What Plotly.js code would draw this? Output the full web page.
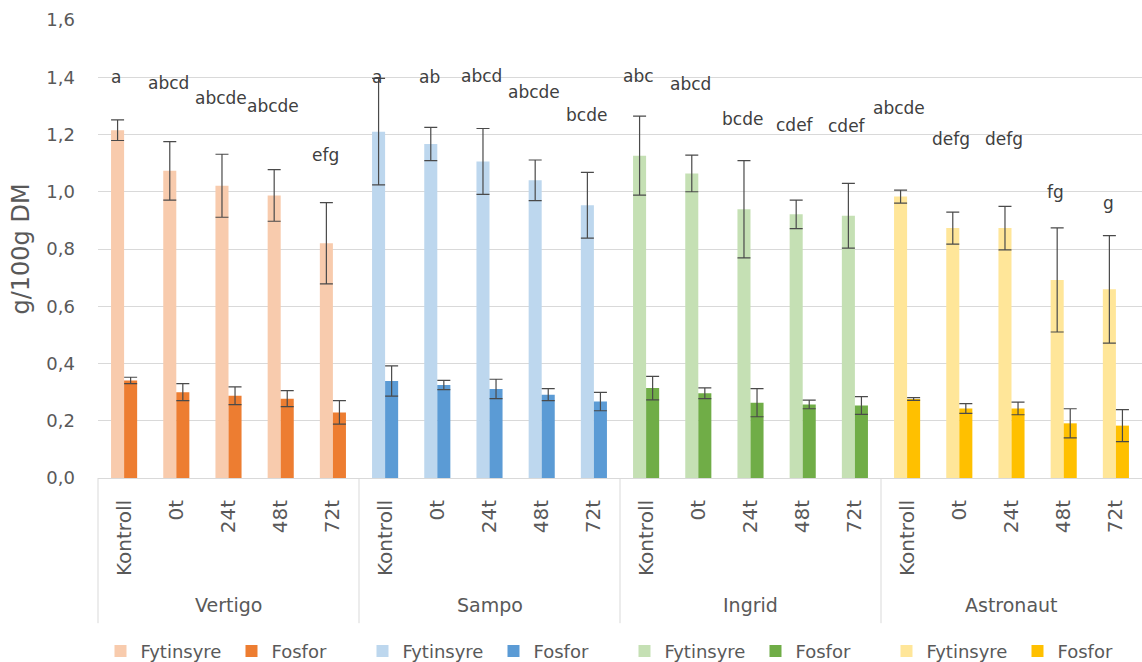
<!DOCTYPE html>
<html>
<head>
<meta charset="utf-8">
<script src="https://cdn.plot.ly/plotly-3.0.1.min.js"></script>
<style>
html,body{margin:0;padding:0;background:#fff;}
#chart{width:1142px;height:662px;}
</style>
</head>
<body>
<div id="chart"></div>
<script>
// ---- data ----
const groups = ['Vertigo', 'Sampo', 'Ingrid', 'Astronaut'];
const categories = ['Kontroll', '0t', '24t', '48t', '72t'];

const fytVertigo   = [1.215, 1.073, 1.021, 0.987, 0.820];
const fytSampo     = [1.210, 1.167, 1.106, 1.040, 0.953];
const fytIngrid    = [1.126, 1.064, 0.939, 0.921, 0.916];
const fytAstronaut = [0.983, 0.873, 0.873, 0.692, 0.659];

const fytErrVertigo   = [0.036, 0.102, 0.110, 0.090, 0.142];
const fytErrSampo     = [0.186, 0.058, 0.115, 0.071, 0.115];
const fytErrIngrid    = [0.138, 0.064, 0.170, 0.050, 0.113];
const fytErrAstronaut = [0.023, 0.056, 0.076, 0.182, 0.188];

const fosVertigo   = [0.341, 0.300, 0.287, 0.277, 0.229];
const fosSampo     = [0.339, 0.325, 0.311, 0.291, 0.267];
const fosIngrid    = [0.314, 0.296, 0.263, 0.257, 0.253];
const fosAstronaut = [0.276, 0.243, 0.243, 0.191, 0.183];

const fosErrVertigo   = [0.011, 0.030, 0.031, 0.028, 0.041];
const fosErrSampo     = [0.053, 0.016, 0.034, 0.021, 0.032];
const fosErrIngrid    = [0.041, 0.019, 0.049, 0.015, 0.031];
const fosErrAstronaut = [0.005, 0.017, 0.022, 0.051, 0.056];

const lettersVertigo   = ['a', 'abcd', 'abcde', 'abcde', 'efg'];
const lettersSampo     = ['a', 'ab', 'abcd', 'abcde', 'bcde'];
const lettersIngrid    = ['abc', 'abcd', 'bcde', 'cdef', 'cdef'];
const lettersAstronaut = ['abcde', 'defg', 'defg', 'fg', 'g'];

const letterYVertigo   = [1.400, 1.381, 1.326, 1.298, 1.129];
const letterYSampo     = [1.400, 1.400, 1.403, 1.350, 1.267];
const letterYIngrid    = [1.403, 1.376, 1.254, 1.233, 1.229];
const letterYAstronaut = [1.294, 1.183, 1.183, 0.999, 0.959];

const seriesNames = ['Fytinsyre', 'Fosfor'];
const yTickVals = [0, 0.2, 0.4, 0.6, 0.8, 1.0, 1.2, 1.4, 1.6];

// ---- styling ----
const fytColors = ['#F8CBAD', '#BDD7EE', '#C5E0B4', '#FFE699'];
const fosColors = ['#ED7D31', '#5B9BD5', '#70AD47', '#FFC000'];
const FONT = 'DejaVu Sans, Open Sans, sans-serif';
const TXT = '#595959';
const ERR = '#4a4a4a';

const fytData = [fytVertigo, fytSampo, fytIngrid, fytAstronaut];
const fytErr = [fytErrVertigo, fytErrSampo, fytErrIngrid, fytErrAstronaut];
const fosData = [fosVertigo, fosSampo, fosIngrid, fosAstronaut];
const fosErr = [fosErrVertigo, fosErrSampo, fosErrIngrid, fosErrAstronaut];
const letterData = [lettersVertigo, lettersSampo, lettersIngrid, lettersAstronaut];
const letterY = [letterYVertigo, letterYSampo, letterYIngrid, letterYAstronaut];

const nC = categories.length;
const traces = [];
const annotations = [];
const shapes = [];
const tickvals = [];
const ticktext = [];

groups.forEach((g, gi) => {
  const xs = categories.map((c, ci) => gi * nC + ci);
  xs.forEach((x, ci) => { tickvals.push(x); ticktext.push(categories[ci]); });
  traces.push({
    type: 'bar', name: seriesNames[0], x: xs, y: fytData[gi],
    offsetgroup: 'fyt',
    marker: {color: fytColors[gi], line: {width: 0}},
    error_y: {type: 'data', array: fytErr[gi], visible: true, color: ERR, thickness: 1.2, width: 6.5},
    hoverinfo: 'y'
  });
  traces.push({
    type: 'bar', name: seriesNames[1], x: xs, y: fosData[gi],
    offsetgroup: 'fos',
    marker: {color: fosColors[gi], line: {width: 0}},
    error_y: {type: 'data', array: fosErr[gi], visible: true, color: ERR, thickness: 1.2, width: 6.5},
    hoverinfo: 'y'
  });
  // significance letters above the Fytinsyre bars
  xs.forEach((x, ci) => {
    annotations.push({
      xref: 'x', yref: 'y', x: x - 0.15, y: letterY[gi][ci],
      text: letterData[gi][ci], showarrow: false,
      xanchor: 'center', yanchor: 'middle',
      font: {family: FONT, size: 17, color: '#404040'}
    });
  });
  // group label
  annotations.push({
    xref: 'x', yref: 'paper', x: (xs[0] + xs[xs.length - 1]) / 2, y: -0.278,
    text: g, showarrow: false, xanchor: 'center', yanchor: 'middle',
    font: {family: FONT, size: 19, color: TXT}
  });
  // group divider
  shapes.push({
    type: 'line', xref: 'paper', yref: 'paper',
    x0: gi / groups.length, x1: gi / groups.length, y0: 0, y1: -0.317,
    line: {color: '#D9D9D9', width: 1}
  });
});

const layout = {
  width: 1142, height: 662,
  margin: {l: 98, r: 0, t: 20, b: 184, autoexpand: false},
  paper_bgcolor: '#fff', plot_bgcolor: '#fff',
  separators: ', ',
  font: {family: FONT, color: TXT, size: 18},
  barmode: 'group', bargap: 0.5, bargroupgap: 0,
  showlegend: true,
  legend: {
    orientation: 'h', xref: 'container', yref: 'container',
    x: 0.088, xanchor: 'left', y: 0.016, yanchor: 'middle',
    entrywidth: 86, entrywidthmode: 'pixels',
    font: {family: FONT, size: 18, color: TXT}, traceorder: 'normal',
    itemclick: false, itemdoubleclick: false
  },
  xaxis: {
    type: 'linear', range: [-0.5, groups.length * nC - 0.5],
    tickvals: tickvals, ticktext: ticktext, tickangle: -90,
    showgrid: false, zeroline: false, showline: true, linecolor: '#D9D9D9', linewidth: 1,
    ticks: '', ticklabelstandoff: 13,
    tickfont: {family: FONT, size: 20, color: TXT},
    fixedrange: true
  },
  yaxis: {
    range: [0, 1.6], tickvals: yTickVals, tickformat: '.1f',
    showgrid: true, gridcolor: '#D9D9D9', gridwidth: 1,
    zeroline: false, showline: false, ticks: '', ticklabelstandoff: 22,
    tickfont: {family: FONT, size: 18, color: TXT},
    title: {text: 'g/100g DM', font: {family: FONT, size: 24, color: TXT}, standoff: 9},
    automargin: false, fixedrange: true
  },
  annotations: annotations,
  shapes: shapes
};

Plotly.newPlot('chart', traces, layout, {displayModeBar: false});
</script>
</body>
</html>
